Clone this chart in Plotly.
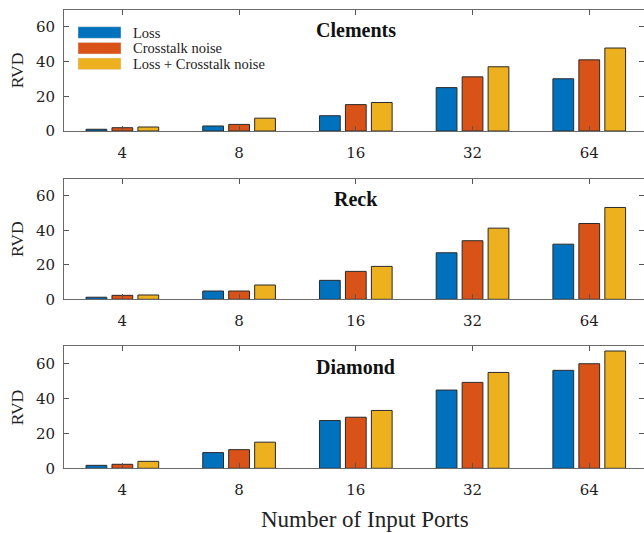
import plotly.graph_objects as go
from plotly.subplots import make_subplots

# ---- data ----
ports = ["4", "8", "16", "32", "64"]
series_names = ["Loss", "Crosstalk noise", "Loss + Crosstalk noise"]
panel_titles = ["Clements", "Reck", "Diamond"]

clements_loss = [1.0, 2.9, 8.8, 25.0, 30.1]
clements_xtalk = [1.9, 3.8, 15.2, 31.2, 41.0]
clements_both = [2.3, 7.4, 16.4, 37.0, 47.8]

reck_loss = [1.2, 4.8, 11.0, 27.0, 32.0]
reck_xtalk = [2.3, 4.8, 16.2, 34.0, 44.0]
reck_both = [2.5, 8.3, 19.1, 41.3, 53.3]

diamond_loss = [1.7, 9.0, 27.4, 44.9, 56.2]
diamond_xtalk = [2.3, 10.7, 29.3, 49.3, 60.0]
diamond_both = [4.0, 15.0, 33.2, 55.0, 67.3]

panels = [
    [clements_loss, clements_xtalk, clements_both],
    [reck_loss, reck_xtalk, reck_both],
    [diamond_loss, diamond_xtalk, diamond_both],
]

colors = ["#0072BD", "#D95319", "#EDB120"]
FONT = "Liberation Serif"
TICKFONT = "DejaVu Serif"

W, H = 644, 533
L, R = 64, 0
PW = W - L - R
# panel top/bottom in pixels
extents = [(9.5, 131.0), (178.7, 299.3), (346.3, 468.3)]


def py(p):
    return 1 - p / H


def px(p):
    return (p - L) / PW


fig = make_subplots(rows=3, cols=1)

for i, vals in enumerate(panels):
    for j, v in enumerate(vals):
        fig.add_trace(
            go.Bar(
                x=ports, y=v, name=series_names[j],
                marker=dict(color=colors[j], line=dict(color="#2a2a2a", width=1)),
                showlegend=False,
            ),
            row=i + 1, col=1,
        )

axis_common = dict(
    showline=True, linecolor="#6a6a6a", linewidth=1, mirror="ticks",
    ticks="inside", ticklen=5, tickcolor="#555", tickwidth=1,
    showgrid=False, zeroline=False,
    tickfont=dict(family=TICKFONT, size=15, color="#222"),
)

for i, (top, bot) in enumerate(extents):
    sfx = "" if i == 0 else str(i + 1)
    fig.layout["xaxis" + sfx].update(
        type="category", range=[-0.5, 4.469], domain=[0, 1],
        ticklabelstandoff=8, automargin=False, **axis_common,
    )
    fig.layout["yaxis" + sfx].update(
        range=[0, 70], tickvals=[0, 20, 40, 60], domain=[py(bot), py(top)],
        ticklabelstandoff=5, automargin=False, **axis_common,
    )
    # panel title
    fig.add_annotation(
        x=2, y=58, xref="x" + sfx, yref="y" + sfx, text="<b>%s</b>" % panel_titles[i],
        showarrow=False, font=dict(family=FONT, size=20, color="#111"),
        xanchor="center", yanchor="middle",
    )
    # y title
    fig.add_annotation(
        x=px(17), y=py((top + bot) / 2), xref="paper", yref="paper", text="RVD",
        textangle=-90, showarrow=False, font=dict(family=FONT, size=17.5, color="#222"),
        xanchor="center", yanchor="middle",
    )

# legend (panel 1, top-left)
leg_y = [32.5, 48.2, 63.8]
for j, name in enumerate(series_names):
    fig.add_shape(
        type="rect", xref="paper", yref="paper",
        x0=px(78), x1=px(121), y0=py(leg_y[j] + 5.8), y1=py(leg_y[j] - 5.8),
        fillcolor=colors[j], line=dict(color="#dddddd", width=0.5),
    )
    fig.add_annotation(
        x=px(131), y=py(leg_y[j]), xref="paper", yref="paper", text=name,
        showarrow=False, xanchor="left", yanchor="middle",
        font=dict(family=FONT, size=14.5, color="#222"),
    )

# x title
fig.add_annotation(
    x=px(365), y=py(519), xref="paper", yref="paper", text="Number of Input Ports",
    showarrow=False, xanchor="center", yanchor="middle",
    font=dict(family=FONT, size=23, color="#222"),
)

fig.update_layout(
    width=W, height=H,
    margin=dict(l=L, r=R, t=0, b=0, autoexpand=False),
    paper_bgcolor="white", plot_bgcolor="white",
    barmode="group", bargap=0.333, bargroupgap=0.2,
    showlegend=False,
    font=dict(family=FONT),
)

fig.write_html("out.html")
